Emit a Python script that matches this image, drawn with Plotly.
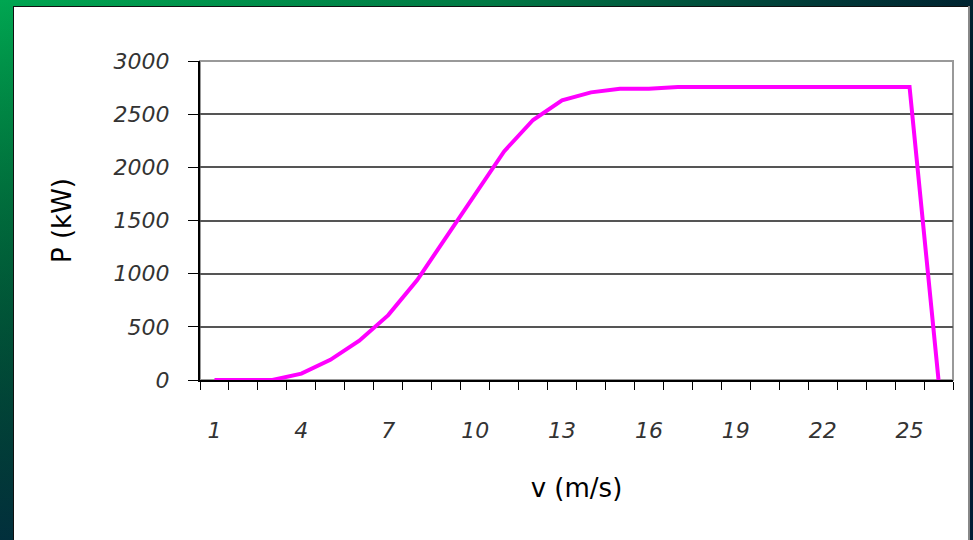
import base64
import plotly.graph_objects as go

# ---- data ----
wind_speed = list(range(1, 27))
power_kw = [0, 0, 0, 60, 190, 370, 610, 940, 1340, 1745, 2150, 2445, 2630,
            2705, 2740, 2740, 2755, 2755, 2755, 2755, 2755, 2755, 2755, 2755, 2755, 0]
x_tick_vals = [1, 4, 7, 10, 13, 16, 19, 22, 25]
x_tick_text = ["1", "4", "7", "10", "13", "16", "19", "22", "25"]
y_tick_vals = [0, 500, 1000, 1500, 2000, 2500, 3000]
x_title = "v (m/s)"
y_title = "P (kW)"

W, H = 973, 540
L, R, T, B = 200, 20, 61, 160
pw, ph = W - L - R, H - T - B

# background frame (gradient border + white card) as an svg image
svg = f'''<svg xmlns="http://www.w3.org/2000/svg" width="{W}" height="{H}" viewBox="0 0 {W} {H}">
<defs><linearGradient id="g" x1="0" y1="0" x2="1" y2="0.35">
<stop offset="0" stop-color="#00a651"/><stop offset="0.45" stop-color="#017a45"/>
<stop offset="0.75" stop-color="#013a38"/><stop offset="1" stop-color="#00122a"/></linearGradient>
<linearGradient id="v" x1="0" y1="0" x2="0" y2="1">
<stop offset="0" stop-color="#000" stop-opacity="0"/><stop offset="1" stop-color="#02203a" stop-opacity="0.85"/></linearGradient></defs>
<rect width="{W}" height="{H}" fill="url(#g)"/>
<rect width="{W}" height="{H}" fill="url(#v)"/>
<rect x="13" y="6" width="{968-13}" height="{H}" fill="#111"/>
<rect x="14" y="7" width="{968-14}" height="{H}" fill="#ffffff"/>
<rect x="968" y="6" width="2" height="{H}" fill="#888"/>
</svg>'''
src = "data:image/svg+xml;base64," + base64.b64encode(svg.encode()).decode()

fig = go.Figure()
fig.add_trace(go.Scatter(x=wind_speed, y=power_kw, mode="lines",
                         line=dict(color="#ff00ff", width=4), hoverinfo="x+y"))

tick_font = dict(family="DejaVu Sans", size=22, color="#333333", style="italic", weight=300)
title_font = dict(family="DejaVu Sans", size=26, color="black")

fig.update_layout(
    width=W, height=H,
    margin=dict(l=L, r=R, t=T, b=B),
    paper_bgcolor="white",
    plot_bgcolor="rgba(0,0,0,0)",
    showlegend=False,
    images=[dict(source=src, xref="paper", yref="paper",
                 x=-L / pw, y=(ph + T) / ph, sizex=W / pw, sizey=H / ph,
                 sizing="stretch", xanchor="left", yanchor="top", layer="below")],
)

fig.update_xaxes(
    range=[0.5, 26.5], tickmode="array", tickvals=x_tick_vals, ticktext=x_tick_text,
    ticks="outside", ticklen=30, tickcolor="rgba(0,0,0,0)",
    tickfont=tick_font, showgrid=False, zeroline=False,
    showline=True, linecolor="black", linewidth=2,
    minor=dict(tick0=0.5, dtick=1, ticks="outside", ticklen=8, tickcolor="black",
               tickwidth=1, showgrid=False),
    title=dict(text=x_title, font=title_font, standoff=36),
)
fig.update_yaxes(
    range=[0, 3000], tickmode="array", tickvals=y_tick_vals,
    ticks="outside", ticklen=10, tickcolor="black", tickwidth=1,
    ticklabelstandoff=14,
    tickfont=tick_font, showgrid=True, gridcolor="#555555", gridwidth=1.5,
    zeroline=False, showline=True, linecolor="black", linewidth=2,
    title=dict(text=y_title, font=title_font, standoff=34),
)
# light grey right/top frame of plot area
fig.add_shape(type="rect", xref="paper", yref="paper", x0=0, y0=0, x1=1, y1=1,
              line=dict(color="#999999", width=2), layer="below")

fig.write_html("out.html", config={"displayModeBar": False},
               post_script="document.body.style.margin='0';")
